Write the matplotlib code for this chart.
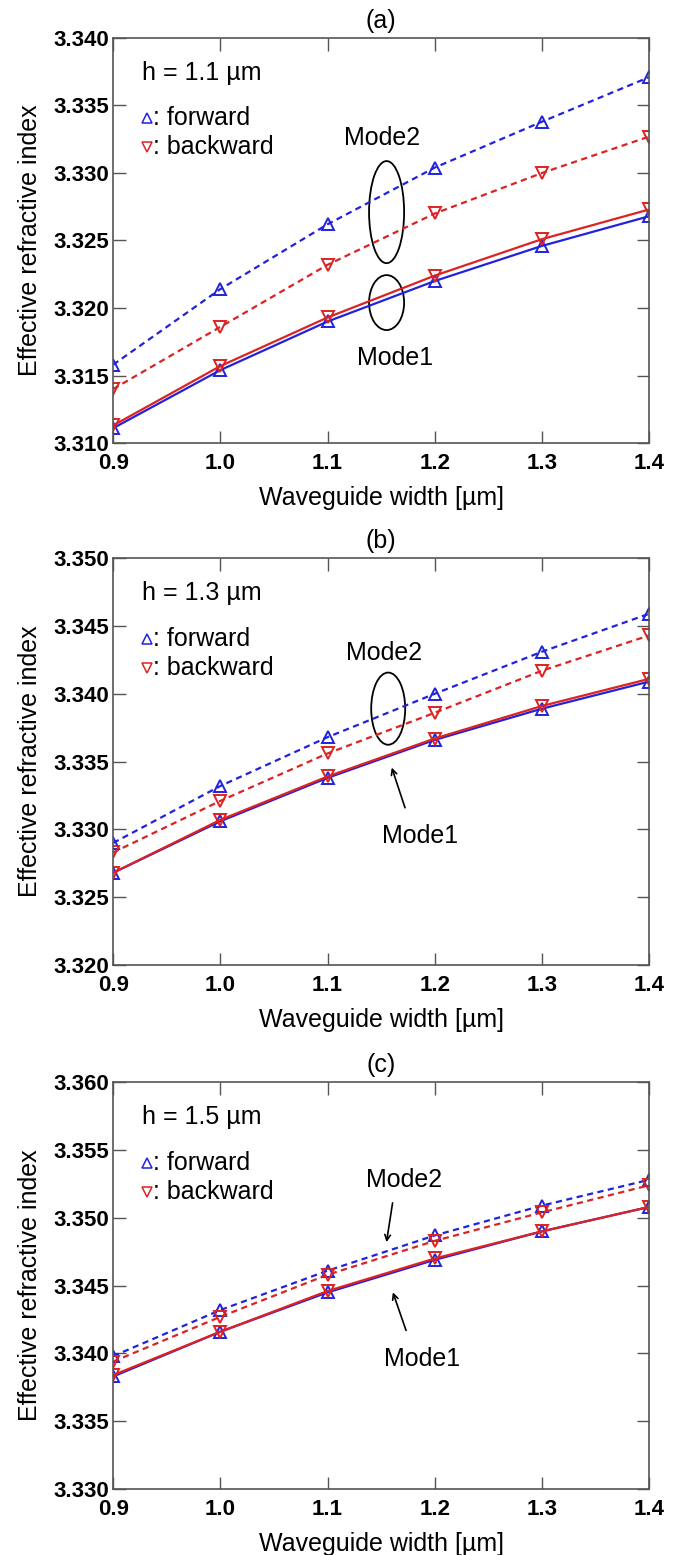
import matplotlib
matplotlib.use("Agg")
import matplotlib.pyplot as plt
from matplotlib.patches import Ellipse
import numpy as np

plt.rcParams['font.family'] = ['Liberation Sans', 'DejaVu Sans']

# waveguide widths [um]
width = [0.9, 1.0, 1.1, 1.2, 1.3, 1.4]

# h = 1.1 um
a_m2_fwd = [3.3158, 3.3214, 3.3262, 3.3304, 3.3338, 3.3371]
a_m2_bwd = [3.3140, 3.3186, 3.3232, 3.3270, 3.3300, 3.3327]
a_m1_fwd = [3.3111, 3.3154, 3.3190, 3.3220, 3.3246, 3.3268]
a_m1_bwd = [3.3113, 3.3157, 3.3193, 3.3224, 3.3251, 3.3273]

# h = 1.3 um
b_m2_fwd = [3.3290, 3.3332, 3.3368, 3.3400, 3.3431, 3.3459]
b_m2_bwd = [3.3283, 3.3321, 3.3356, 3.3386, 3.3417, 3.3443]
b_m1_fwd = [3.3268, 3.3306, 3.3338, 3.3366, 3.3389, 3.3409]
b_m1_bwd = [3.3268, 3.3307, 3.3339, 3.3367, 3.3391, 3.3411]

# h = 1.5 um
c_m2_fwd = [3.3398, 3.3432, 3.3461, 3.3487, 3.3509, 3.3528]
c_m2_bwd = [3.3394, 3.3427, 3.3458, 3.3483, 3.3504, 3.3524]
c_m1_fwd = [3.3383, 3.3416, 3.3445, 3.3469, 3.3490, 3.3508]
c_m1_bwd = [3.3384, 3.3416, 3.3446, 3.3470, 3.3490, 3.3508]

panel_titles = ['(a)', '(b)', '(c)']
heights = ['h = 1.1 \u00b5m', 'h = 1.3 \u00b5m', 'h = 1.5 \u00b5m']
ylims = [(3.310, 3.340), (3.320, 3.350), (3.330, 3.360)]
xticks = [0.9, 1.0, 1.1, 1.2, 1.3, 1.4]

BLUE = '#2222dd'
RED = '#dd2222'
FS = 18

fig = plt.figure(figsize=(6.9, 15.55), dpi=100)
boxes = [[0.164, 0.7151, 0.777, 0.2605],
         [0.164, 0.3794, 0.777, 0.2617],
         [0.164, 0.0424, 0.777, 0.2617]]

data = [(a_m2_fwd, a_m2_bwd, a_m1_fwd, a_m1_bwd),
        (b_m2_fwd, b_m2_bwd, b_m1_fwd, b_m1_bwd),
        (c_m2_fwd, c_m2_bwd, c_m1_fwd, c_m1_bwd)]

axes = []
for i in range(3):
    ax = fig.add_axes(boxes[i])
    axes.append(ax)
    m2f, m2b, m1f, m1b = data[i]
    dash = (0, (2.8, 2.0))
    ax.plot(width, m2f, color=BLUE, ls=dash, lw=1.6, marker='^', ms=9,
            mfc='none', mec=BLUE, mew=1.4)
    ax.plot(width, m2b, color=RED, ls=dash, lw=1.6, marker='v', ms=9,
            mfc='none', mec=RED, mew=1.4)
    ax.plot(width, m1f, color=BLUE, ls='-', lw=1.6, marker='^', ms=9,
            mfc='none', mec=BLUE, mew=1.4)
    ax.plot(width, m1b, color=RED, ls='-', lw=1.6, marker='v', ms=9,
            mfc='none', mec=RED, mew=1.4)

    ax.set_xlim(0.9, 1.4)
    ax.set_ylim(*ylims[i])
    ax.set_xticks(xticks)
    ax.set_xticklabels(['%.1f' % x for x in xticks], fontweight='bold', fontsize=16)
    yt = np.round(np.arange(ylims[i][0], ylims[i][1] + 1e-9, 0.005), 3)
    ax.set_yticks(yt)
    ax.set_yticklabels(['%.3f' % y for y in yt], fontweight='bold', fontsize=16)
    ax.tick_params(direction='in', length=9, width=1, color='#555555',
                   top=True, right=True)
    ax.tick_params(axis='x', pad=7)
    ax.tick_params(axis='y', pad=3)
    for s in ax.spines.values():
        s.set_color('#555555')
        s.set_linewidth(1.2)

    ax.set_xlabel('Waveguide width [\u00b5m]', fontsize=FS, labelpad=9)
    ax.set_ylabel('Effective refractive index', fontsize=FS, labelpad=8)
    ax.set_title(panel_titles[i], fontsize=FS, pad=7)

    # height label and marker key
    ax.text(0.054, 0.914, heights[i], transform=ax.transAxes, fontsize=FS,
            va='center', ha='left')
    ax.plot([0.063], [0.802], transform=ax.transAxes, marker='^', ms=7,
            mfc='none', mec=BLUE, mew=1.1, ls='none', clip_on=False)
    ax.plot([0.063], [0.731], transform=ax.transAxes, marker='v', ms=7,
            mfc='none', mec=RED, mew=1.1, ls='none', clip_on=False)
    ax.text(0.075, 0.802, ': forward', transform=ax.transAxes, fontsize=FS,
            va='center', ha='left')
    ax.text(0.075, 0.731, ': backward', transform=ax.transAxes, fontsize=FS,
            va='center', ha='left')

# (a): mode groups circled
ax = axes[0]
ax.text(1.151, 3.3326, 'Mode2', fontsize=FS, ha='center', va='center')
ax.add_patch(Ellipse((1.155, 3.3271), 0.0327, 0.00756, fill=False,
                     ec='black', lw=1.3))
ax.add_patch(Ellipse((1.155, 3.3204), 0.0327, 0.00407, fill=False,
                     ec='black', lw=1.3))
ax.text(1.163, 3.3163, 'Mode1', fontsize=FS, ha='center', va='center')

# (b)
ax = axes[1]
ax.text(1.153, 3.3430, 'Mode2', fontsize=FS, ha='center', va='center')
ax.add_patch(Ellipse((1.1565, 3.3389), 0.0317, 0.00532, fill=False,
                     ec='black', lw=1.3))
ax.annotate('', xy=(1.159, 3.33475), xytext=(1.173, 3.3314),
            arrowprops=dict(arrowstyle='->', color='black', lw=1.2))
ax.text(1.186, 3.3295, 'Mode1', fontsize=FS, ha='center', va='center')

# (c)
ax = axes[2]
ax.text(1.171, 3.3528, 'Mode2', fontsize=FS, ha='center', va='center')
ax.annotate('', xy=(1.1545, 3.3480), xytext=(1.161, 3.3513),
            arrowprops=dict(arrowstyle='->', color='black', lw=1.2))
ax.annotate('', xy=(1.160, 3.3447), xytext=(1.174, 3.3415),
            arrowprops=dict(arrowstyle='->', color='black', lw=1.2))
ax.text(1.188, 3.3396, 'Mode1', fontsize=FS, ha='center', va='center')

fig.savefig('out.png', dpi=100)
